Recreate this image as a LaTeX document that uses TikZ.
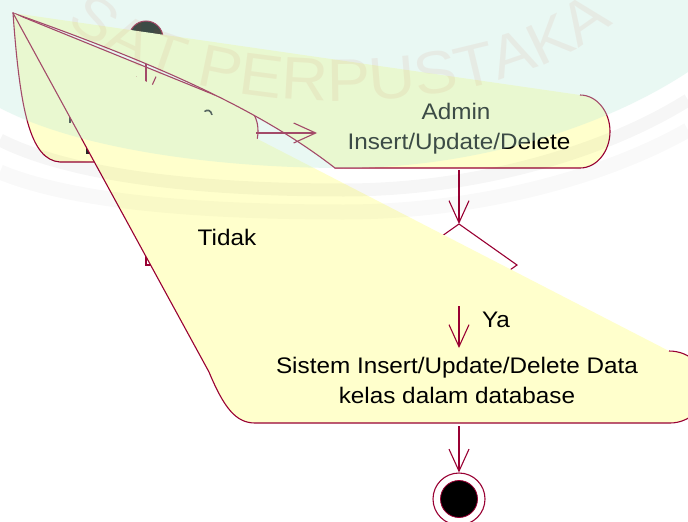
\documentclass[tikz,border=0pt]{standalone}
\usepackage{fontspec}
\setmainfont{Liberation Sans}[FakeStretch=1.08]
\usetikzlibrary{arrows.meta,decorations.text}
\definecolor{umlred}{HTML}{990033}
\definecolor{umlfill}{HTML}{FFFFCC}
\definecolor{tint}{RGB}{187,234,219}
\definecolor{wmred}{RGB}{200,70,40}
\begin{document}
\begin{tikzpicture}[x=1pt,y=-1pt,
  edge/.style={draw=umlred,line width=1.1pt},
  flow/.style={edge,-{Straight Barb[length=22pt,width=20pt,line width=1.1pt]}},
  actfill/.style={fill=umlfill},
  lbl/.style={font=\fontsize{22.5}{27}\selectfont,inner sep=0pt,anchor=base,text=black},
  frag/.style={line width=2.2pt,black!85},
]
\useasboundingbox (0,0) rectangle (688,522);
\fill[white] (0,0) rectangle (688,522);

% named points
\coordinate (apex) at (13,13);
\coordinate (loginTop) at (146,100);
\coordinate (loginBot) at (146,162);
\coordinate (loopc) at (146,265);
\coordinate (loginR) at (256,133);
\coordinate (adminL) at (317,133);
\coordinate (adminB) at (459,170);
\coordinate (dT) at (459,224);
\coordinate (dR) at (517,265);
\coordinate (dB) at (459,306);
\coordinate (dL) at (401,265);
\coordinate (sysT) at (459,348);
\coordinate (sysB) at (459,426);

% initial node
\node[circle,fill=black,draw=umlred,line width=1pt,minimum size=34pt,inner sep=0pt] (start) at (146,38) {};

% login activity (mostly hidden)
\filldraw[actfill,edge] (apex) .. controls (20,110) and (30,160) .. (60,162)
  -- (227,162) .. controls (245,162) and (258,150) .. (258,131)
  .. controls (258,112) and (245,100) .. (227,100) -- cycle;
\draw[frag] (70,114) -- (70,123);
\draw[frag] (87,143) -- (87,153) -- (93,153);
\draw[line width=1.6pt,black!85] (204,112) .. controls (207,109) and (211,110) .. (212,115);

% connectors into login
\draw[flow] (start) -- (loginTop);
\draw[flow] (dL) -- (loopc) -- (loginBot);

% decision
\filldraw[fill=white,edge] (dT) -- (dR) -- (dB) -- (dL) -- cycle;

% admin activity
\fill[actfill] (apex) -- (580,95) .. controls (597,95) and (610,112) .. (610,131.5)
  .. controls (610,151) and (597,168) .. (580,168) -- (335,168)
  .. controls (260,110) and (160,65) .. (apex) -- cycle;
\draw[edge] (580,95) .. controls (597,95) and (610,112) .. (610,131.5)
  .. controls (610,151) and (597,168) .. (580,168) -- (335,168)
  .. controls (260,110) and (160,65) .. (apex);

% system activity
\fill[actfill] (apex) -- (209,372) .. controls (224,408) and (236,423) .. (255,423)
  -- (670,423) .. controls (690,423) and (706,407) .. (706,387)
  .. controls (706,367) and (690,351) .. (669,351) -- cycle;
\draw[edge] (apex) -- (209,372) .. controls (224,408) and (236,423) .. (255,423)
  -- (670,423) .. controls (690,423) and (706,407) .. (706,387)
  .. controls (706,367) and (690,351) .. (669,351);

% connectors
\draw[flow] (loginR) -- (adminL);
\draw[flow] (adminB) -- (dT);
\draw[flow] (dB) -- (sysT);

% final node
\node[circle,draw=umlred,line width=1.1pt,fill=white,minimum size=52pt,inner sep=0pt] (final) at (459,499) {};
\node[circle,fill=black,draw=umlred,line width=0.8pt,minimum size=37pt,inner sep=0pt] (finalIn) at (final) {};
\draw[flow] (sysB) -- (final);

% texts
\node[lbl] (t1) at (456,119) {Admin};
\node[lbl] (t2) at (459,149) {Insert/Update/Delete};
\node[lbl] (tidak) at (227,245) {Tidak};
\node[lbl] (ya) at (496,327) {Ya};
\node[lbl] (s1) at (457,373) {Sistem Insert/Update/Delete Data};
\node[lbl] (s2) at (457,403) {kelas dalam database};

% faded watermark overlay
\fill[tint,opacity=0.32] (0,0) -- (688,0) -- (688,72) .. controls (600,130) and (470,168) .. (344,168)
  .. controls (220,168) and (80,150) .. (0,108) -- cycle;
\draw[black,opacity=0.035,line width=13pt] (0,140) .. controls (80,180) and (220,190) .. (344,190)
  .. controls (470,190) and (600,155) .. (688,100);
\draw[black,opacity=0.025,line width=15pt] (0,172) .. controls (80,205) and (220,212) .. (344,212)
  .. controls (470,212) and (600,180) .. (688,130);
\begin{scope}[opacity=0.07]
\path[decorate,decoration={text along path,text align=center,
  text={|\fontsize{60}{60}\selectfont\color{wmred}|SAT PERPUSTAKA}}]
  (45,0) .. controls (150,135) and (530,135) .. (635,0);
\end{scope}
\end{tikzpicture}
\end{document}
